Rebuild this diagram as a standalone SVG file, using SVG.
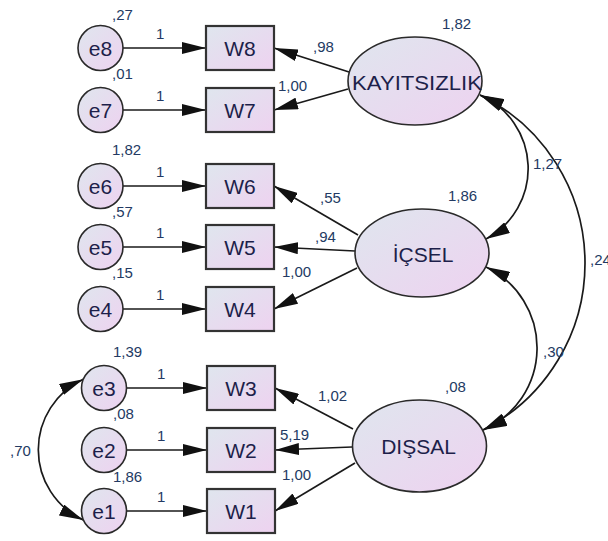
<svg xmlns="http://www.w3.org/2000/svg" width="608" height="541" viewBox="0 0 608 541">
<style>
.nd{fill:url(#g);stroke:#2a2a2a;stroke-width:1.6}
.bx{fill:url(#g);stroke:#333;stroke-width:2.2}
.lb{font-family:"Liberation Sans",Arial,sans-serif;font-size:21px;fill:#1d1f4a;text-anchor:middle}
.nm{font-family:"Liberation Sans",Arial,sans-serif;font-size:15px;fill:#233a63}
.ln{stroke:#1a1a1a;stroke-width:1.7;fill:none;marker-end:url(#ah)}
.cv{stroke:#1a1a1a;stroke-width:1.7;fill:none;marker-start:url(#ah);marker-end:url(#ah)}
</style>
<defs>
<linearGradient id="g" x1="0" y1="0" x2="1" y2="1">
<stop offset="0" stop-color="#dfe6ee"/>
<stop offset="1" stop-color="#eed2f0"/>
</linearGradient>
<marker id="ah" markerUnits="userSpaceOnUse" markerWidth="24" markerHeight="12" viewBox="0 0 24 12" refX="24" refY="6" orient="auto-start-reverse">
<path d="M0,0 L24,6 L0,12 z" fill="#111"/>
</marker>
</defs>
<rect width="608" height="541" fill="#fff"/>

<g id="connectors">
<line class="ln" x1="123" y1="48" x2="206" y2="48"/>
<line class="ln" x1="123" y1="110" x2="206" y2="110"/>
<line class="ln" x1="123" y1="186" x2="206" y2="186"/>
<line class="ln" x1="123" y1="247" x2="206" y2="247"/>
<line class="ln" x1="123" y1="309" x2="206" y2="309"/>
<line class="ln" x1="126.5" y1="388" x2="207" y2="388"/>
<line class="ln" x1="126.5" y1="450" x2="207" y2="450"/>
<line class="ln" x1="126.5" y1="511" x2="207" y2="511"/>
<line class="ln" x1="349" y1="72" x2="274" y2="48"/>
<line class="ln" x1="348" y1="89" x2="274" y2="110"/>
<line class="ln" x1="358" y1="235" x2="274" y2="186"/>
<line class="ln" x1="355" y1="251" x2="274" y2="247"/>
<line class="ln" x1="357" y1="268" x2="274" y2="309"/>
<line class="ln" x1="353" y1="429" x2="275" y2="388"/>
<line class="ln" x1="352" y1="447" x2="275" y2="450"/>
<line class="ln" x1="355" y1="463" x2="275" y2="511"/>
<path class="cv" d="M480,95 A80.1,80.1 0 0 1 486,239"/>
<path class="cv" d="M480,95 A187.3,187.3 0 0 1 483,430"/>
<path class="cv" d="M486,267 A89.5,89.5 0 0 1 483,430"/>
<path class="cv" d="M83.3,379.3 A77.5,77.5 0 0 0 83.3,520"/>
</g>

<g id="e8"><circle class="nd" cx="100.5" cy="48" r="22.5"/><text class="lb" x="100.5" y="55.5">e8</text></g>
<g id="e7"><circle class="nd" cx="100.5" cy="110" r="22.5"/><text class="lb" x="100.5" y="117.5">e7</text></g>
<g id="e6"><circle class="nd" cx="100.5" cy="186" r="22.5"/><text class="lb" x="100.5" y="193.5">e6</text></g>
<g id="e5"><circle class="nd" cx="100.5" cy="247" r="22.5"/><text class="lb" x="100.5" y="254.5">e5</text></g>
<g id="e4"><circle class="nd" cx="100.5" cy="309" r="22.5"/><text class="lb" x="100.5" y="316.5">e4</text></g>
<g id="e3"><circle class="nd" cx="104" cy="388" r="22.5"/><text class="lb" x="104" y="395.5">e3</text></g>
<g id="e2"><circle class="nd" cx="104" cy="450" r="22.5"/><text class="lb" x="104" y="457.5">e2</text></g>
<g id="e1"><circle class="nd" cx="104" cy="511" r="22.5"/><text class="lb" x="104" y="518.5">e1</text></g>

<g id="W8"><rect class="bx" x="206" y="26" width="68" height="44"/><text class="lb" x="240" y="55.5">W8</text></g>
<g id="W7"><rect class="bx" x="206" y="88" width="68" height="44"/><text class="lb" x="240" y="117.5">W7</text></g>
<g id="W6"><rect class="bx" x="206" y="164" width="68" height="44"/><text class="lb" x="240" y="193.5">W6</text></g>
<g id="W5"><rect class="bx" x="206" y="225" width="68" height="44"/><text class="lb" x="240" y="254.5">W5</text></g>
<g id="W4"><rect class="bx" x="206" y="287" width="68" height="44"/><text class="lb" x="240" y="316.5">W4</text></g>
<g id="W3"><rect class="bx" x="207" y="366" width="68" height="44"/><text class="lb" x="241" y="395.5">W3</text></g>
<g id="W2"><rect class="bx" x="207" y="428" width="68" height="44"/><text class="lb" x="241" y="457.5">W2</text></g>
<g id="W1"><rect class="bx" x="207" y="489" width="68" height="44"/><text class="lb" x="241" y="518.5">W1</text></g>

<g id="KAYITSIZLIK"><ellipse class="nd" cx="415" cy="81" rx="67" ry="44"/><text class="lb" x="417" y="89.5" textLength="130" lengthAdjust="spacingAndGlyphs">KAYITSIZLIK</text></g>
<g id="ICSEL"><ellipse class="nd" cx="422" cy="253" rx="67" ry="44"/><text class="lb" x="423" y="262">İÇSEL</text></g>
<g id="DISSAL"><ellipse class="nd" cx="419.5" cy="446" rx="67" ry="46"/><text class="lb" x="418.5" y="454">DIŞSAL</text></g>

<g id="labels">
<text class="nm" x="112" y="20.4">,27</text>
<text class="nm" x="112" y="79.4">,01</text>
<text class="nm" x="112" y="155.4">1,82</text>
<text class="nm" x="112" y="217.4">,57</text>
<text class="nm" x="112" y="278.4">,15</text>
<text class="nm" x="113" y="357.4">1,39</text>
<text class="nm" x="113" y="419.4">,08</text>
<text class="nm" x="113" y="482.4">1,86</text>
<text class="nm" x="156" y="39">1</text>
<text class="nm" x="156" y="101">1</text>
<text class="nm" x="156" y="177">1</text>
<text class="nm" x="156" y="238">1</text>
<text class="nm" x="156" y="300">1</text>
<text class="nm" x="157" y="379">1</text>
<text class="nm" x="157" y="441">1</text>
<text class="nm" x="157" y="502">1</text>
<text class="nm" x="442" y="29.4">1,82</text>
<text class="nm" x="448" y="201.4">1,86</text>
<text class="nm" x="445" y="392.4">,08</text>
<text class="nm" x="313" y="52.4">,98</text>
<text class="nm" x="278" y="91.4">1,00</text>
<text class="nm" x="320" y="203.4">,55</text>
<text class="nm" x="315" y="242.4">,94</text>
<text class="nm" x="282" y="277.4">1,00</text>
<text class="nm" x="318" y="401.4">1,02</text>
<text class="nm" x="280" y="440.4">5,19</text>
<text class="nm" x="282" y="480.4">1,00</text>
<text class="nm" x="533" y="169.4">1,27</text>
<text class="nm" x="590" y="265.4">,24</text>
<text class="nm" x="543" y="357.4">,30</text>
<text class="nm" x="10" y="456.4">,70</text>
</g>
</svg>
